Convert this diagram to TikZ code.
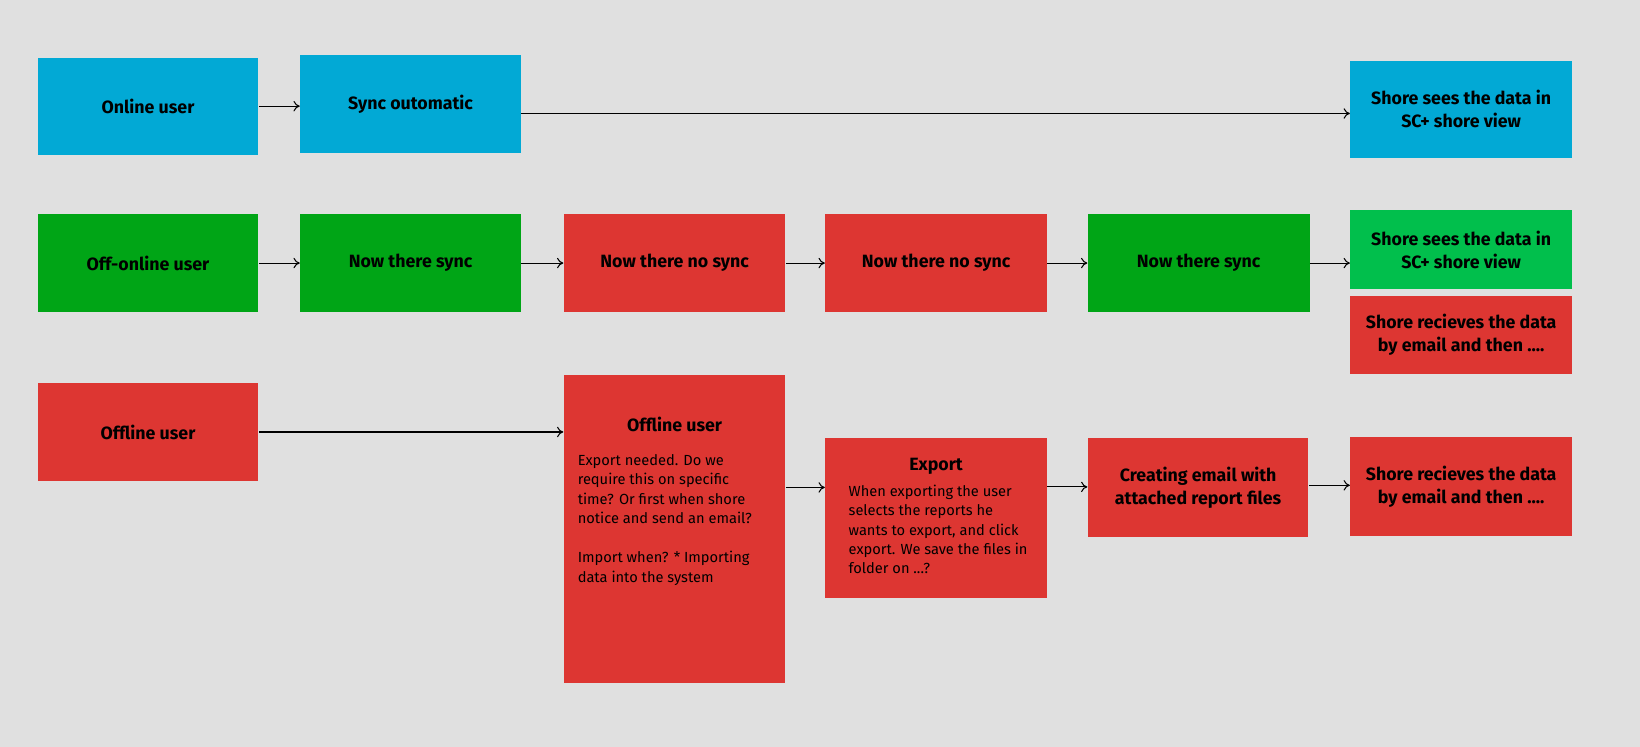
\documentclass[tikz,border=0pt]{standalone}
\usepackage{fontspec}
\setmainfont{Fira Sans}
\usetikzlibrary{arrows.meta}
\begin{document}
\begin{tikzpicture}[x=0.5pt,y=-0.5pt,
  box/.style={draw=none,inner sep=2pt,align=center,font=\bfseries\fontsize{8.5}{11}\selectfont,text=black},
  blue/.style={fill=cBlue},green/.style={fill=cGreen},lgreen/.style={fill=cLGreen},red/.style={fill=cRed},
  arr/.style={-{To[length=3pt,width=5pt]},line width=0.5pt,black},
  body/.style={align=left,font=\fontsize{7}{9.3}\selectfont,inner sep=0pt}]
\definecolor{cBlue}{HTML}{02A9D5}\definecolor{cGreen}{HTML}{00A516}
\definecolor{cLGreen}{HTML}{01BF4C}\definecolor{cRed}{HTML}{DD3632}
\fill[fill={rgb,255:red,224;green,224;blue,224}] (0,0) rectangle (1568,714);
\useasboundingbox (0,0) rectangle (1568,714);
% row 1
\node[box,blue,minimum width=105.5pt,minimum height=46.5pt] (ou) at (141.5,101.5) {Online user};
\node[box,blue,minimum width=105.5pt,minimum height=46.5pt] (sa) at (392.5,99.5) {Sync outomatic};
\node[box,blue,minimum width=106pt,minimum height=46.5pt] (s1) at (1397,104.5) {Shore sees the data in\\SC+ shore view};
% row 2
\node[box,green,minimum width=105.5pt,minimum height=46.5pt] (oo) at (141.5,251.5) {Off-online user};
\node[box,green,minimum width=105.5pt,minimum height=46.5pt] (n1) at (392.5,251.5) {Now there sync};
\node[box,red,minimum width=106pt,minimum height=46.5pt] (n2) at (645,251.5) {Now there no sync};
\node[box,red,minimum width=106pt,minimum height=46.5pt] (n3) at (895,251.5) {Now there no sync};
\node[box,green,minimum width=106pt,minimum height=46.5pt] (n4) at (1146,251.5) {Now there sync};
\node[box,lgreen,minimum width=106pt,minimum height=37.5pt] (s2) at (1397,238.5) {Shore sees the data in\\SC+ shore view};
\node[box,red,minimum width=106pt,minimum height=37.5pt] (s3) at (1397,320.5) {Shore recieves the data\\by email and then ....};
% row 3
\node[box,red,minimum width=105.5pt,minimum height=47pt] (of) at (141.5,413) {Offline user};
\node[box,red,minimum width=106pt,minimum height=147pt] (big) at (645,506) {};
\node[box,anchor=north] (bigt) at (645,394) {Offline user};
\node[body,anchor=north west] (bigb) at (552,434) {Export needed. Do we\\require this on specific\\time? Or first when shore\\notice and send an email?\\[9.3pt]Import when? * Importing\\data into the system};
\node[box,red,minimum width=106pt,minimum height=76.5pt] (ex) at (895,495.5) {};
\node[box,anchor=north] (ext) at (895,434) {Export};
\node[body,anchor=north west] (exb) at (811,463) {When exporting the user\\selects the reports he\\wants to export, and click\\export. We save the files in\\folder on ...?};
\node[box,red,minimum width=105.5pt,minimum height=47pt] (ce) at (1145.5,466) {Creating email with\\attached report files};
\node[box,red,minimum width=106pt,minimum height=47pt] (s4) at (1397,465) {Shore recieves the data\\by email and then ....};
% arrows
\draw[arr] (ou.east) -- (ou.east -| sa.west);
\draw[arr] ([yshift=-4.5pt]sa.east) -- ([yshift=-4.5pt]sa.east -| s1.west);
\draw[arr] (oo) -- (n1); \draw[arr] (n1) -- (n2); \draw[arr] (n2) -- (n3);
\draw[arr] (n3) -- (n4); \draw[arr] (n4.east) -- (n4.east -| s2.west);
\draw[arr] (of.east) -- (of.east -| big.west);
\draw[arr] ([yshift=20pt]big.east) -- ([yshift=20pt]big.east -| ex.west);
\draw[arr] ([yshift=15pt]ex.east) -- ([yshift=15pt]ex.east -| ce.west);
\draw[arr] ([yshift=1pt]ce.east) -- ([yshift=1pt]ce.east -| s4.west);
\end{tikzpicture}
\end{document}
